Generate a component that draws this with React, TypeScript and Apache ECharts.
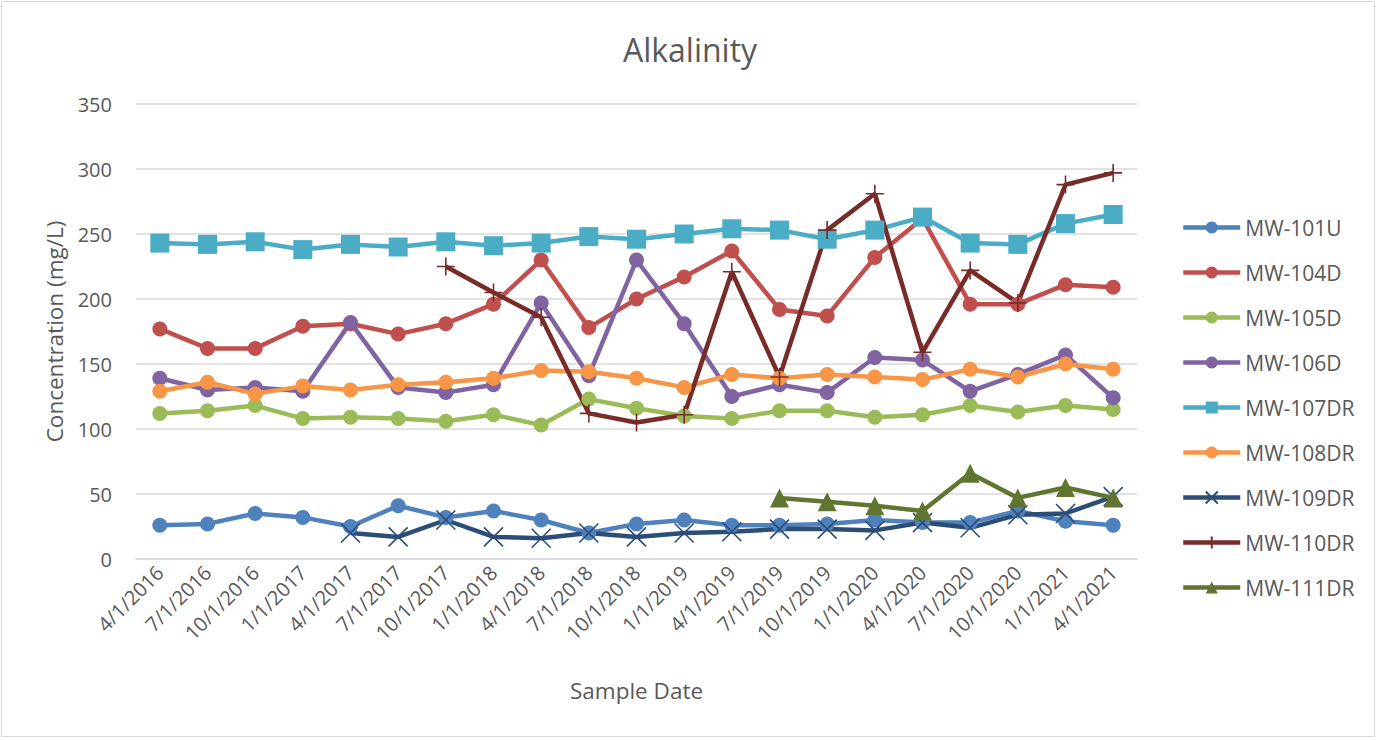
import React, { useEffect, useRef } from "react";
import * as echarts from "echarts";

const categories = [
  "4/1/2016", "7/1/2016", "10/1/2016", "1/1/2017", "4/1/2017", "7/1/2017", "10/1/2017",
  "1/1/2018", "4/1/2018", "7/1/2018", "10/1/2018", "1/1/2019", "4/1/2019", "7/1/2019",
  "10/1/2019", "1/1/2020", "4/1/2020", "7/1/2020", "10/1/2020", "1/1/2021", "4/1/2021",
];

const mw101U = [26, 27, 35, 32, 25, 41, 32, 37, 30, 20, 27, 30, 26, 26, 27, 30, 28, 28, 37, 29, 26];
const mw104D = [177, 162, 162, 179, 181, 173, 181, 196, 230, 178, 200, 217, 237, 192, 187, 232, 262, 196, 196, 211, 209];
const mw105D = [112, 114, 118, 108, 109, 108, 106, 111, 103, 123, 116, 110, 108, 114, 114, 109, 111, 118, 113, 118, 115];
const mw106D = [139, 130, 132, 129, 182, 132, 128, 134, 197, 141, 230, 181, 125, 134, 128, 155, 153, 129, 142, 157, 124];
const mw107DR = [243, 242, 244, 238, 242, 240, 244, 241, 243, 248, 246, 250, 254, 253, 246, 253, 263, 243, 242, 258, 265];
const mw108DR = [129, 136, 127, 133, 130, 134, 136, 139, 145, 144, 139, 132, 142, 139, 142, 140, 138, 146, 140, 150, 146];
const mw109DR = [null, null, null, null, 20, 17, 30, 17, 16, 20, 17, 20, 21, 23, 23, 22, 28, 24, 34, 35, 48];
const mw110DR = [null, null, null, null, null, null, 225, 205, 186, 112, 105, 111, 221, 140, 253, 281, 159, 222, 197, 288, 297];
const mw111DR = [null, null, null, null, null, null, null, null, null, null, null, null, null, 47, 44, 41, 37, 66, 47, 55, 47];

const yTicks = [0, 50, 100, 150, 200, 250, 300, 350];

const FONT = "'Open Sans', 'Noto Sans', sans-serif";
const TXT = "#595959";

const X_PATH = "path://M0,0L10,10M10,0L0,10";
const PLUS_PATH = "path://M5,0L5,10M0,5L10,5";

function mk(name: string, data: (number | null)[], color: string, symbol: string, size: number, stroked = false) {
  return {
    name,
    type: "line",
    data,
    symbol,
    symbolSize: size,
    showAllSymbol: true,
    lineStyle: { color, width: 4.5 },
    itemStyle: stroked
      ? { color, borderColor: color, borderWidth: 1.6 }
      : { color, borderWidth: 0 },
    emphasis: { disabled: true },
  };
}

export default function App() {
  const ref = useRef<HTMLDivElement>(null);
  useEffect(() => {
    if (!ref.current) return;
    const chart = echarts.init(ref.current, undefined, { renderer: "svg" });
    chart.setOption({
      animation: false,
      backgroundColor: "#ffffff",
      title: {
        text: "Alkalinity",
        left: "center",
        top: 28,
        textStyle: { fontFamily: FONT, fontSize: 32, fontWeight: "normal", color: TXT },
      },
      graphic: [
        {
          type: "rect",
          shape: { x: 1.5, y: 1.5, width: 1373, height: 735 },
          style: { fill: "none", stroke: "#d9d9d9", lineWidth: 1 },
          silent: true,
        },
      ],
      grid: { left: 136, right: 243, top: 104, bottom: 181, containLabel: false },
      legend: {
        orient: "vertical",
        left: 1176,
        top: 212,
        itemWidth: 57,
        itemHeight: 15,
        itemGap: 24,
        lineStyle: { width: 4.5 },
        textStyle: { fontFamily: FONT, fontSize: 21, color: TXT },
        data: ["MW-101U", "MW-104D", "MW-105D", "MW-106D", "MW-107DR", "MW-108DR", "MW-109DR", "MW-110DR", "MW-111DR"],
      },
      xAxis: {
        type: "category",
        data: categories,
        boundaryGap: true,
        name: "Sample Date",
        nameLocation: "middle",
        nameGap: 120,
        nameTextStyle: { fontFamily: FONT, fontSize: 22.5, color: TXT },
        axisLine: { lineStyle: { color: "#d9d9d9", width: 1.5 } },
        axisTick: { show: false },
        axisLabel: {
          interval: 0,
          rotate: 45,
          margin: 10,
          fontFamily: FONT,
          fontSize: 20,
          color: TXT,
        },
      },
      yAxis: {
        type: "value",
        min: yTicks[0],
        max: yTicks[yTicks.length - 1],
        interval: 50,
        name: "Concentration (mg/L)",
        nameLocation: "middle",
        nameGap: 70,
        nameTextStyle: { fontFamily: FONT, fontSize: 22.5, color: TXT },
        axisLine: { show: false },
        axisTick: { show: false },
        splitLine: { lineStyle: { color: "#d9d9d9", width: 1.5 } },
        axisLabel: { margin: 24, fontFamily: FONT, fontSize: 20, color: TXT },
      },
      series: [
        mk("MW-101U", mw101U, "#4f81bd", "circle", 15),
        mk("MW-104D", mw104D, "#c0504d", "circle", 15),
        mk("MW-105D", mw105D, "#9bbb59", "circle", 15),
        mk("MW-106D", mw106D, "#8064a2", "circle", 15),
        mk("MW-107DR", mw107DR, "#4bacc6", "rect", 19),
        mk("MW-108DR", mw108DR, "#f79646", "circle", 15),
        mk("MW-109DR", mw109DR, "#2c4d75", X_PATH, 19, true),
        mk("MW-110DR", mw110DR, "#772c2a", PLUS_PATH, 18, true),
        mk("MW-111DR", mw111DR, "#5f7530", "triangle", 19),
      ],
    });
    return () => chart.dispose();
  }, []);
  return (
    <div
      ref={ref}
      style={{ position: "absolute", left: 0, top: 0, width: 1380, height: 740 }}
    />
  );
}
